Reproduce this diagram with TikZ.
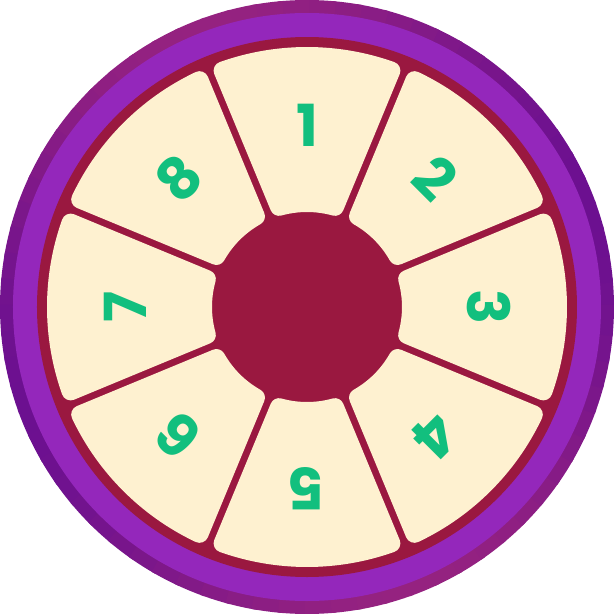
\documentclass[tikz,border=0pt]{standalone}
\usepackage{fontspec}
\newfontfamily\numfont{Poppins}
\definecolor{ringA}{HTML}{952280}
\definecolor{ringB}{HTML}{6C1090}
\definecolor{ringlight}{HTML}{9427BB}
\definecolor{crimson}{HTML}{9A1840}
\definecolor{cream}{HTML}{FEF1D0}
\definecolor{numgreen}{HTML}{12BF7E}
\tikzset{
  segment/.style={fill=cream, draw=cream, line width=18pt, line join=round},
  numlabel/.style={text=numgreen, inner sep=0pt, font=\numfont\bfseries\fontsize{58}{60}\selectfont}
}
\begin{document}
\begin{tikzpicture}[x=1pt,y=1pt]
\useasboundingbox (-307,-307) rectangle (307,307);
% outer ring with angular gradient
\foreach \a in {0,5,...,355}{
  \pgfmathsetmacro\m{50*(1+cos(2*(\a+2.5-110)))}
  \fill[ringA!\m!ringB] (0,0) -- (\a-0.4:307) arc[start angle=\a-0.4,end angle=\a+5.4,radius=307] -- cycle;
}
\fill[ringlight] (0,0) circle[radius=294];
\fill[crimson] (0,0) circle[radius=270];
% segments and numbers
\pgfmathsetmacro\ao{asin(12.5/251)}
\pgfmathsetmacro\ai{asin(12.5/104)}
\foreach \t/\n in {90/1,45/2,0/3,-45/4,-90/5,-135/6,180/7,135/8}{
  \path[segment] ({\t-22.5+\ao}:251) arc[start angle={\t-22.5+\ao}, end angle={\t+22.5-\ao}, radius=251]
     -- ({\t+22.5-\ai}:104) arc[start angle={\t+22.5-\ai}, end angle={\t-22.5+\ai}, radius=104] -- cycle;
  \node[numlabel, rotate=\t-90] (n\n) at (\t:182) {\n};
}
\end{tikzpicture}
\end{document}
